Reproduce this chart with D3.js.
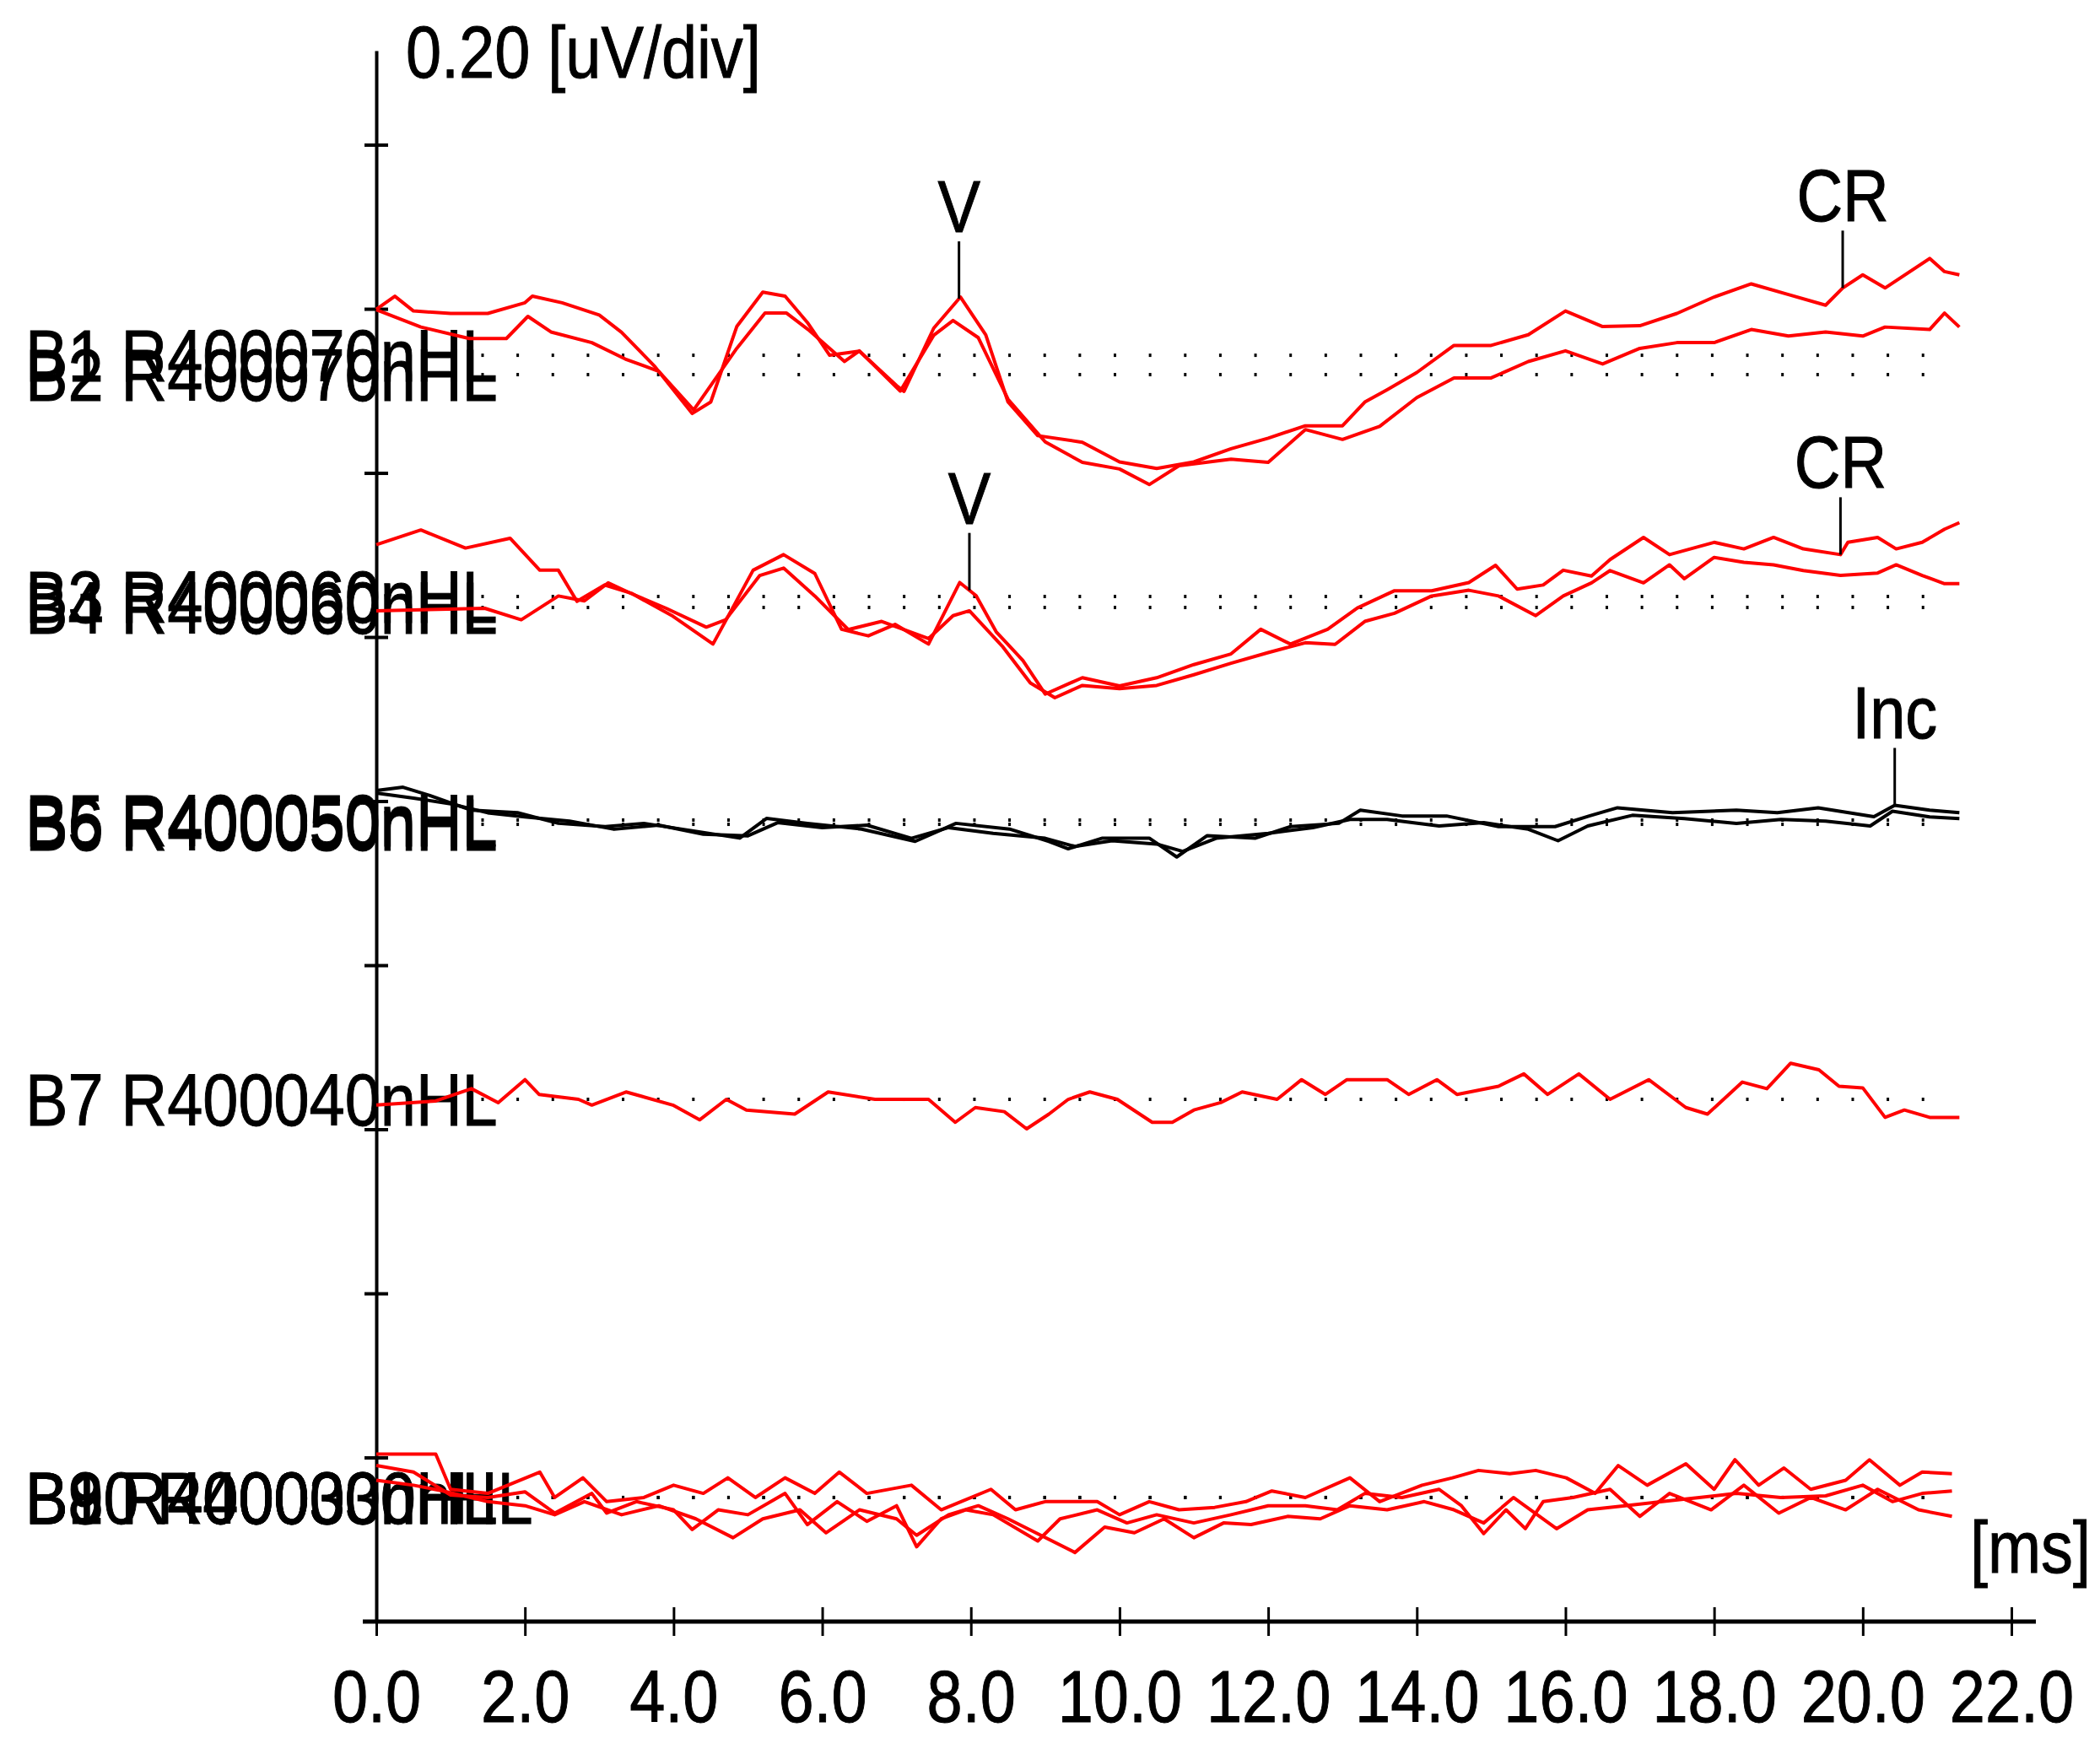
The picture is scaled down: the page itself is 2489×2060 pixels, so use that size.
<!DOCTYPE html>
<html>
<head>
<meta charset="utf-8">
<script src="https://cdn.jsdelivr.net/npm/d3@7"></script>
<style>
body{margin:0;background:#fff;}
text{font-family:"Liberation Sans",Arial,sans-serif;fill:#000;stroke:#000;stroke-width:1;}
</style>
</head>
<body>
<script>
// time axis (ms) and amplitude (uV per division)
var timeTicks = [0,2,4,6,8,10,12,14,16,18,20,22];
var uvPerDiv = 0.2;

var traceNames = ["B1 R400070nHL","B2 R400070nHL","B3 R400060nHL","B4 R400060nHL","B5 R400050nHL","B6 R400050nHL","B7 R400040nHL","B8 R400030nHL","B9 R400030nHL","B10 R400030nHL"];
// baseline of every trace on the uV axis
var traceOffsets = [1.5434,1.5198,1.2494,1.2360,0.9769,0.9717,0.6365,0.1512,0.1512,0.1512];
var traceColors = ["#ff0000","#ff0000","#ff0000","#ff0000","#000000","#000000","#ff0000","#ff0000","#ff0000","#ff0000"];

// [ms, uV] relative to baseline
var b1 = [[0,0.056],[0.25,0.072],[0.5,0.054],[1.0,0.051],[1.5,0.051],[2.0,0.064],[2.1,0.072],[2.5,0.064],[3.0,0.049],[3.3,0.028],[3.75,-0.014],[4.25,-0.071],[4.5,-0.057],[4.85,0.035],[5.2,0.077],[5.5,0.072],[5.8,0.040],[6.1,0.000],[6.5,0.005],[7.0,-0.037],[7.1,-0.044],[7.5,0.033],[7.86,0.071],[8.2,0.025],[8.5,-0.057],[8.9,-0.098],[9.5,-0.106],[10.0,-0.130],[10.5,-0.138],[11.0,-0.130],[11.5,-0.114],[12.0,-0.101],[12.5,-0.086],[13.0,-0.086],[13.3,-0.057],[13.6,-0.042],[14.0,-0.021],[14.5,0.012],[15.0,0.012],[15.5,0.025],[16.0,0.054],[16.5,0.035],[17.0,0.036],[17.5,0.051],[18.0,0.071],[18.5,0.087],[19.0,0.074],[19.5,0.061],[19.73,0.082],[20.0,0.098],[20.3,0.082],[20.9,0.118],[21.1,0.102],[21.3,0.098]];
var b2 = [[0,0.079],[0.6,0.058],[1.25,0.044],[1.75,0.044],[2.04,0.071],[2.35,0.052],[2.9,0.039],[3.35,0.019],[3.8,0.004],[4.27,-0.043],[4.85,0.032],[5.23,0.075],[5.52,0.075],[5.81,0.055],[6.3,0.016],[6.5,0.029],[7.05,-0.020],[7.5,0.048],[7.76,0.066],[8.1,0.045],[8.5,-0.030],[9.0,-0.082],[9.5,-0.107],[10.0,-0.115],[10.4,-0.134],[10.8,-0.111],[11.5,-0.103],[12.0,-0.107],[12.5,-0.067],[13.0,-0.079],[13.5,-0.063],[14.0,-0.028],[14.5,-0.004],[15.0,-0.004],[15.5,0.016],[16.0,0.029],[16.5,0.013],[17.0,0.032],[17.5,0.039],[18.0,0.039],[18.5,0.055],[19.0,0.047],[19.5,0.052],[20.0,0.047],[20.3,0.058],[20.9,0.055],[21.1,0.075],[21.3,0.058]];
var b3 = [[0,0.063],[0.6,0.081],[1.2,0.059],[1.8,0.071],[2.2,0.032],[2.45,0.032],[2.7,-0.006],[3.07,0.014],[3.43,0.004],[3.99,-0.024],[4.53,-0.058],[5.07,0.032],[5.48,0.051],[5.9,0.028],[6.26,-0.040],[6.62,-0.048],[6.98,-0.034],[7.43,-0.058],[7.85,0.017],[8.07,0.001],[8.34,-0.043],[8.7,-0.078],[9.0,-0.119],[9.5,-0.099],[10.0,-0.109],[10.5,-0.099],[11.0,-0.083],[11.5,-0.070],[11.9,-0.040],[12.3,-0.058],[12.8,-0.040],[13.2,-0.014],[13.7,0.007],[14.2,0.007],[14.7,0.017],[15.06,0.038],[15.35,0.009],[15.7,0.014],[15.97,0.032],[16.35,0.025],[16.6,0.045],[17.05,0.072],[17.4,0.051],[18.0,0.066],[18.4,0.058],[18.8,0.072],[19.2,0.058],[19.7,0.051],[19.8,0.066],[20.2,0.072],[20.45,0.058],[20.8,0.066],[21.1,0.082],[21.3,0.090]];
var b4 = [[0,-0.004],[1.46,-0.001],[1.95,-0.015],[2.45,0.014],[2.8,0.008],[3.12,0.030],[3.43,0.017],[3.9,-0.001],[4.44,-0.024],[4.7,-0.015],[5.16,0.039],[5.48,0.048],[5.9,0.014],[6.35,-0.027],[6.8,-0.017],[7.43,-0.038],[7.76,-0.010],[7.98,-0.004],[8.43,-0.048],[8.8,-0.092],[9.13,-0.110],[9.5,-0.095],[10.0,-0.099],[10.5,-0.095],[11.0,-0.082],[11.5,-0.068],[12.0,-0.055],[12.5,-0.043],[12.9,-0.045],[13.3,-0.017],[13.7,-0.007],[14.2,0.014],[14.7,0.021],[15.1,0.014],[15.6,-0.010],[15.97,0.014],[16.35,0.030],[16.6,0.045],[17.05,0.030],[17.4,0.052],[17.6,0.035],[18.0,0.061],[18.4,0.055],[18.8,0.052],[19.2,0.045],[19.7,0.039],[20.2,0.042],[20.45,0.052],[20.8,0.039],[21.1,0.029],[21.3,0.029]];
var b5 = [[0,0.036],[0.36,0.040],[0.72,0.030],[1.28,0.012],[1.9,0.009],[2.45,-0.004],[3.08,-0.008],[3.6,-0.004],[4.25,-0.013],[4.89,-0.022],[5.25,0.002],[5.8,-0.004],[6.53,-0.011],[7.25,-0.026],[7.8,-0.004],[8.52,-0.011],[9.05,-0.026],[9.31,-0.035],[9.77,-0.022],[10.4,-0.022],[10.77,-0.045],[11.18,-0.019],[11.83,-0.022],[12.3,-0.008],[12.95,-0.004],[13.24,0.012],[13.8,0.005],[14.4,0.005],[15.1,-0.008],[15.86,-0.008],[16.32,0.005],[16.7,0.015],[17.44,0.009],[18.3,0.012],[18.85,0.009],[19.4,0.015],[20.15,0.004],[20.43,0.018],[20.9,0.012],[21.3,0.009]];
var b6 = [[0,0.038],[0.5,0.032],[1.0,0.025],[1.5,0.014],[2.0,0.009],[2.6,0.004],[3.2,-0.006],[3.8,-0.001],[4.4,-0.012],[5.0,-0.014],[5.4,0.002],[6.0,-0.004],[6.6,-0.001],[7.2,-0.017],[7.7,-0.004],[8.3,-0.011],[9.0,-0.017],[9.4,-0.027],[9.9,-0.020],[10.5,-0.024],[10.85,-0.033],[11.3,-0.017],[12.0,-0.011],[12.6,-0.004],[13.1,0.006],[13.6,0.006],[14.3,-0.002],[14.9,0.002],[15.5,-0.006],[15.9,-0.020],[16.3,-0.002],[16.9,0.011],[17.6,0.007],[18.3,0.001],[18.9,0.006],[19.5,0.004],[20.1,-0.002],[20.4,0.016],[20.9,0.009],[21.3,0.007]];
var b7 = [[0,-0.007],[0.8,-0.002],[1.28,0.013],[1.64,-0.004],[2.0,0.024],[2.19,0.006],[2.72,0.000],[2.9,-0.007],[3.36,0.009],[3.99,-0.007],[4.35,-0.025],[4.71,0.000],[4.98,-0.013],[5.63,-0.018],[6.08,0.009],[6.71,0.000],[7.43,0.000],[7.79,-0.028],[8.06,-0.010],[8.45,-0.015],[8.75,-0.036],[9.05,-0.018],[9.31,0.000],[9.6,0.009],[9.97,0.000],[10.44,-0.028],[10.71,-0.028],[11.0,-0.013],[11.36,-0.004],[11.65,0.009],[12.12,0.000],[12.45,0.024],[12.77,0.006],[13.06,0.024],[13.6,0.024],[13.89,0.006],[14.27,0.024],[14.54,0.006],[15.1,0.016],[15.44,0.031],[15.76,0.006],[16.18,0.031],[16.6,0.000],[17.12,0.024],[17.62,-0.010],[17.91,-0.018],[18.38,0.021],[18.71,0.013],[19.03,0.044],[19.41,0.036],[19.68,0.016],[20.0,0.014],[20.3,-0.022],[20.56,-0.013],[20.9,-0.022],[21.3,-0.022]];
var b8 = [[0,0.053],[0.8,0.053],[1.0,0.010],[1.5,0.005],[2.2,0.031],[2.4,0.000],[2.78,0.024],[3.1,-0.005],[3.6,0.000],[4.0,0.015],[4.4,0.005],[4.73,0.024],[5.1,0.000],[5.5,0.024],[5.9,0.005],[6.23,0.031],[6.6,0.005],[7.2,0.015],[7.6,-0.015],[8.27,0.010],[8.6,-0.015],[9.0,-0.005],[9.7,-0.005],[10.0,-0.021],[10.4,-0.005],[10.8,-0.015],[11.28,-0.012],[11.7,-0.005],[12.05,0.008],[12.5,0.000],[13.1,0.024],[13.5,-0.005],[14.07,0.015],[14.48,0.024],[14.83,0.033],[15.25,0.029],[15.6,0.033],[16.01,0.024],[16.4,0.005],[16.71,0.039],[17.1,0.015],[17.62,0.041],[18.0,0.010],[18.28,0.046],[18.6,0.015],[18.94,0.036],[19.3,0.010],[19.77,0.021],[20.09,0.046],[20.5,0.015],[20.8,0.031],[21.2,0.029]];
var b9 = [[0,0.039],[0.5,0.031],[1.0,0.003],[1.5,0.000],[2.0,0.007],[2.4,-0.019],[2.9,0.005],[3.1,-0.019],[3.5,-0.005],[4.0,-0.015],[4.25,-0.039],[4.6,-0.015],[5.0,-0.021],[5.5,0.005],[5.8,-0.033],[6.2,-0.005],[6.6,-0.029],[7.0,-0.010],[7.27,-0.060],[7.6,-0.026],[7.93,-0.015],[8.3,-0.021],[8.9,-0.053],[9.2,-0.026],[9.7,-0.015],[10.1,-0.031],[10.5,-0.021],[11.0,-0.031],[11.5,-0.021],[12.0,-0.010],[12.5,-0.010],[12.93,-0.015],[13.3,0.005],[13.8,0.000],[14.3,0.010],[14.6,-0.010],[14.9,-0.044],[15.2,-0.015],[15.46,-0.038],[15.7,-0.005],[16.1,0.000],[16.6,0.010],[17.0,-0.023],[17.4,0.005],[17.96,-0.015],[18.4,0.015],[18.87,-0.019],[19.3,0.000],[19.77,-0.015],[20.2,0.010],[20.75,-0.015],[21.2,-0.023]];
var b10 = [[0,0.021],[0.5,0.015],[0.9,0.008],[1.5,-0.005],[2.0,-0.010],[2.4,-0.021],[2.8,-0.005],[3.3,-0.021],[3.8,-0.010],[4.3,-0.026],[4.8,-0.049],[5.2,-0.026],[5.7,-0.015],[6.05,-0.043],[6.5,-0.015],[7.0,-0.026],[7.27,-0.046],[7.7,-0.021],[8.1,-0.010],[8.5,-0.026],[9.4,-0.067],[9.8,-0.036],[10.2,-0.043],[10.6,-0.026],[11.0,-0.049],[11.4,-0.031],[11.77,-0.033],[12.26,-0.023],[12.7,-0.026],[13.1,-0.010],[13.6,-0.015],[14.1,-0.005],[14.5,-0.015],[14.9,-0.031],[15.3,0.000],[15.88,-0.038],[16.3,-0.015],[16.8,-0.010],[17.3,-0.005],[17.8,0.000],[18.3,0.005],[18.9,0.000],[19.5,0.002],[20.0,0.015],[20.4,-0.005],[20.8,0.005],[21.2,0.008]];
var traces = [b1,b2,b3,b4,b5,b6,b7,b8,b9,b10];

// peak markers: label, trace index, time (ms)
var markers = [["V",0,7.84],["CR",0,19.73],["V",2,7.98],["CR",2,19.70],["Inc",4,20.43]];

// dotted baselines
var dotStart = 1.43, dotStep = 0.4727, dotCount = 42;

var W = 2489, H = 2060;
var fs = 87, sx = 0.87; // font size and horizontal squeeze of the original font

var svg = d3.select("body").append("svg")
  .attr("width", W)
  .attr("height", H)
  .style("background", "#fff");

var x = d3.scaleLinear().domain([0, 22]).range([446, 2384]);
var y = d3.scaleLinear().domain([0, 1.9147]).range([1922, 60]);

function addText(px, py, str, anchor){
  return svg.append("text")
    .attr("transform", "translate(" + px + "," + py + ") scale(" + sx + ",1)")
    .attr("text-anchor", anchor || "start")
    .attr("font-size", fs)
    .text(str);
}

function valueAt(tr, t){
  var i = d3.bisector(function(d){ return d[0]; }).left(tr, t);
  if (i <= 0) return tr[0][1];
  if (i >= tr.length) return tr[tr.length-1][1];
  var a = tr[i-1], b = tr[i];
  return a[1] + (b[1]-a[1]) * (t-a[0]) / (b[0]-a[0]);
}

// trace labels
traceNames.forEach(function(name, i){
  addText(30, y(traceOffsets[i]) + 31, name);
});

// y axis with crossing ticks
var yAxis = d3.axisLeft(y)
  .tickValues(d3.range(1, 10).map(function(k){ return k*uvPerDiv; }))
  .tickSize(14).tickSizeOuter(0).tickFormat("");
var gy = svg.append("g").attr("transform", "translate(446,0)").call(yAxis);
gy.select(".domain").attr("stroke-width", 4);
gy.selectAll(".tick line").attr("x1", 14).attr("stroke-width", 4);

// x axis
var xAxis = d3.axisBottom(x)
  .tickValues(timeTicks)
  .tickSize(17).tickSizeOuter(0)
  .tickFormat(d3.format(".1f"));
var gx = svg.append("g").attr("transform", "translate(0,1922)").call(xAxis);
gx.attr("font-size", fs).attr("font-family", null);
gx.select(".domain").attr("d", "M430,0H2413").attr("stroke-width", 5);
gx.selectAll(".tick line").attr("y1", -17).attr("stroke-width", 3);
gx.selectAll(".tick text").attr("y", 119).attr("dy", null).attr("transform", "scale(" + sx + ",1)");

// dotted baselines
var dotTimes = d3.range(dotCount).map(function(k){ return dotStart + k*dotStep; });
traceOffsets.forEach(function(off){
  svg.append("g").selectAll("rect")
    .data(dotTimes)
    .enter().append("rect")
    .attr("x", function(t){ return x(t) - 1.5; })
    .attr("y", y(off) - 2)
    .attr("width", 3).attr("height", 4)
    .attr("fill", "#000");
});

// traces
traces.forEach(function(tr, i){
  var line = d3.line()
    .x(function(d){ return x(d[0]); })
    .y(function(d){ return y(traceOffsets[i] + d[1]); });
  svg.append("path")
    .datum(tr)
    .attr("fill", "none")
    .attr("stroke", traceColors[i])
    .attr("stroke-width", 4)
    .attr("stroke-linejoin", "round")
    .attr("d", line);
});

// markers
markers.forEach(function(m){
  var tr = traces[m[1]];
  var mx = x(m[2]);
  var my = y(traceOffsets[m[1]] + valueAt(tr, m[2]));
  svg.append("line")
    .attr("x1", mx).attr("x2", mx)
    .attr("y1", my).attr("y2", my - 68)
    .attr("stroke", "#000").attr("stroke-width", 3);
  addText(mx, my - 79, m[0], "middle");
});

// unit labels
addText(481, 92, d3.format(".2f")(uvPerDiv) + " [uV/div]");
addText(2478, 1864, "[ms]", "end");
</script>
</body>
</html>
